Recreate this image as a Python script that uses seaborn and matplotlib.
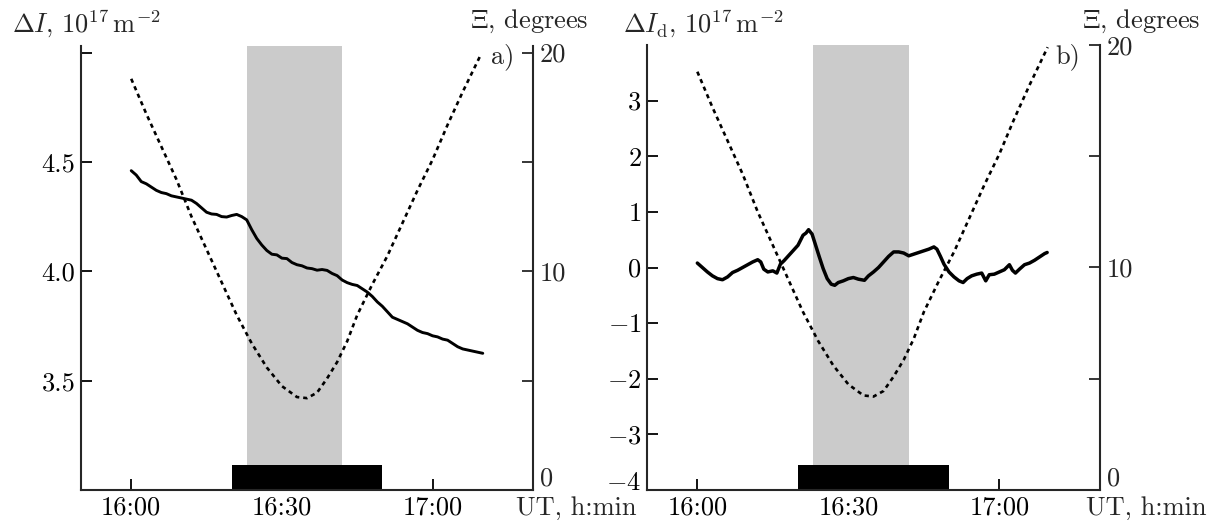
import numpy as np
import pandas as pd
import matplotlib
matplotlib.use("Agg")
import matplotlib.pyplot as plt
import seaborn as sns
from matplotlib.transforms import ScaledTranslation

# ---------------- data (minutes after 16:00 UT) ----------------
time_ticks = [0, 30, 60]
time_labels = ["16:00", "16:30", "17:00"]
gray_interval = [23, 42]
black_interval = [20, 50]

# elevation angle Xi, degrees
xi_t = [0, 3, 6, 9, 12, 15, 18, 21, 24, 27, 30, 33, 35, 37, 39, 41, 43, 45,
        48, 51, 54, 57, 60, 63, 66, 69.6]
xi_deg = [18.8, 17.2, 15.7, 14.2, 12.5, 11.0, 9.5, 8.0, 6.7, 5.6, 4.75, 4.25,
          4.2, 4.45, 5.1, 5.85, 6.8, 8.0, 9.4, 10.7, 12.2, 13.7, 15.1, 16.7,
          18.2, 19.9]

# panel a: total electron content dI, 1e17 m^-2
a_t = list(range(0, 71))
a_val = [4.46, 4.44, 4.41, 4.40, 4.385, 4.37, 4.36, 4.355, 4.345, 4.34,
         4.335, 4.33, 4.325, 4.31, 4.29, 4.27, 4.262, 4.26, 4.25, 4.248,
         4.255, 4.26, 4.25, 4.235, 4.19, 4.15, 4.12, 4.095, 4.078, 4.075,
         4.06, 4.058, 4.04, 4.03, 4.025, 4.015, 4.012, 4.005, 4.008, 4.004,
         3.99, 3.98, 3.96, 3.948, 3.94, 3.935, 3.92, 3.905, 3.885, 3.86,
         3.84, 3.815, 3.79, 3.78, 3.77, 3.76, 3.745, 3.73, 3.72, 3.715,
         3.705, 3.70, 3.69, 3.685, 3.67, 3.655, 3.645, 3.64, 3.635, 3.63,
         3.625]

# panel b: detrended dI_d, 1e17 m^-2
b_t = [0, 1, 2, 3, 4, 5, 6, 7, 8, 9, 10, 11, 12, 12.6, 13.2, 14, 15, 15.8,
       16.5, 17.2, 18, 19, 20, 21, 21.6, 22.1, 22.8, 23.5, 24.2, 25, 25.8,
       26.6, 27.3, 28, 29, 30, 31, 32, 33.2, 34, 35, 36, 37, 38, 39, 40, 41,
       42, 43, 44, 45, 46, 47, 47.6, 48.3, 49, 50, 51, 52, 52.8, 53.6, 54.5,
       55.5, 56.5, 57.3, 58, 59, 60, 61, 62, 62.6, 63.2, 64, 65, 66, 67, 68,
       69, 69.5]
b_val = [0.08, 0.0, -0.08, -0.15, -0.2, -0.22, -0.17, -0.09, -0.05, 0.0,
         0.05, 0.1, 0.14, 0.1, -0.03, -0.08, -0.06, -0.1, 0.06, 0.12, 0.2,
         0.3, 0.4, 0.58, 0.62, 0.68, 0.6, 0.4, 0.2, -0.02, -0.2, -0.3, -0.32,
         -0.27, -0.24, -0.2, -0.18, -0.21, -0.23, -0.15, -0.08, 0.0, 0.1, 0.2,
         0.28, 0.28, 0.26, 0.21, 0.24, 0.27, 0.3, 0.33, 0.37, 0.33, 0.2, 0.06,
         -0.08, -0.17, -0.24, -0.27, -0.2, -0.15, -0.12, -0.1, -0.24, -0.13,
         -0.12, -0.08, -0.04, 0.05, -0.05, -0.1, -0.03, 0.05, 0.08, 0.13,
         0.19, 0.25, 0.27]

a_yticks = [3.5, 4.0, 4.5, 5.0]
a_ylabels = ["3.5", "4.0", "4.5", ""]
b_yticks = [-4, -3, -2, -1, 0, 1, 2, 3]
b_ylabels = [r"$-4$", r"$-3$", r"$-2$", r"$-1$", r"$0$", r"$1$", r"$2$", r"$3$"]
xi_ticks = [0, 5, 10, 15, 20]
xi_labels = ["0", "", "10", "", "20"]

# ---------------- style ----------------
sns.set_theme(style="ticks")
plt.rcParams.update({
    "font.family": ["cmr10", "DejaVu Serif"],
    "mathtext.fontset": "cm",
    "axes.formatter.use_mathtext": True,
    "axes.unicode_minus": False,
    "axes.linewidth": 1.5,
    "font.size": 19,
})
FS = 19

fig = plt.figure(figsize=(12.12, 5.2), dpi=100)
axa = fig.add_axes([81 / 1212, 30 / 520, 452 / 1212, 444 / 520])
axb = fig.add_axes([647 / 1212, 30 / 520, 453 / 1212, 445 / 520])

df_a = pd.DataFrame({"t": a_t, "v": a_val})
df_b = pd.DataFrame({"t": b_t, "v": b_val})
df_xi = pd.DataFrame({"t": xi_t, "deg": xi_deg})


def setup(ax, df, ylim, yticks, ylabels, xi_top, lw):
    ax.axvspan(gray_interval[0], gray_interval[1], color="#cbcbcb", lw=0, zorder=0)
    ax.axvspan(black_interval[0], black_interval[1], ymin=0, ymax=0.056,
               color="black", lw=0, zorder=1)
    sns.lineplot(data=df, x="t", y="v", ax=ax, color="black", lw=lw,
                 estimator=None, sort=False, zorder=3)
    ax.set_xlim(-10, 80)
    ax.set_ylim(*ylim)
    ax.set_xticks(time_ticks)
    ax.set_xticklabels(time_labels, fontsize=FS)
    ax.set_yticks(yticks)
    ax.set_yticklabels(ylabels, fontsize=FS)
    ax.set_xlabel("")
    ax.set_ylabel("")
    ax.tick_params(direction="in", length=8, width=1.3, pad=4, colors="black")
    for s in ["top", "right"]:
        ax.spines[s].set_visible(False)
    ax.patch.set_alpha(0)

    tw = ax.twinx()
    sns.lineplot(data=df_xi, x="t", y="deg", ax=tw, color="black", lw=1.9,
                 linestyle=(0, (1.6, 1.5)), estimator=None, sort=False)
    tw.set_ylim(0, xi_top)
    tw.set_yticks(xi_ticks)
    tw.set_yticklabels(xi_labels, fontsize=FS)
    tw.set_ylabel("")
    tw.tick_params(direction="in", length=8, width=1.3, pad=5)
    for s in ["top", "left", "bottom"]:
        tw.spines[s].set_visible(False)
    tw.spines["right"].set_linewidth(1.5)
    return tw


twa = setup(axa, df_a, (3.0, 5.03), a_yticks, a_ylabels, 20.3, 2.1)
twb = setup(axb, df_b, (-4, 4), b_yticks, b_ylabels, 20.0, 2.5)

# right-axis "0" labels sit on the bottom spine, as in the original
for tw in (twa, twb):
    ticks = tw.yaxis.get_major_ticks()
    ticks[0].label2.set_va("bottom")

# lift the "-4" label slightly so it clears the time-axis caption
lab = axb.yaxis.get_major_ticks()[0].label1
lab.set_transform(lab.get_transform() + ScaledTranslation(0, 0.09, fig.dpi_scale_trans))

# ---------------- texts ----------------
fig.text(12 / 1212, 1 - 33 / 520, r"$\Delta I,\, 10^{17}\,\mathrm{m}^{-2}$",
         fontsize=FS, ha="left", va="baseline")
fig.text(623 / 1212, 1 - 33 / 520, r"$\Delta I_{\mathrm{d}},\, 10^{17}\,\mathrm{m}^{-2}$",
         fontsize=FS, ha="left", va="baseline")
fig.text(588 / 1212, 1 - 28 / 520, r"$\Xi$, degrees", fontsize=FS, ha="right", va="baseline")
fig.text(1200 / 1212, 1 - 28 / 520, r"$\Xi$, degrees", fontsize=FS, ha="right", va="baseline")
fig.text(514 / 1212, 1 - 63 / 520, "a)", fontsize=FS, ha="right", va="baseline")
fig.text(1080 / 1212, 1 - 63 / 520, "b)", fontsize=FS, ha="right", va="baseline")
fig.text(516 / 1212, 1 - 515 / 520, "UT, h:min", fontsize=FS, ha="left", va="baseline")
fig.text(1086 / 1212, 1 - 515 / 520, "UT, h:min", fontsize=FS, ha="left", va="baseline")

fig.savefig("out.png", dpi=100, facecolor="white")
